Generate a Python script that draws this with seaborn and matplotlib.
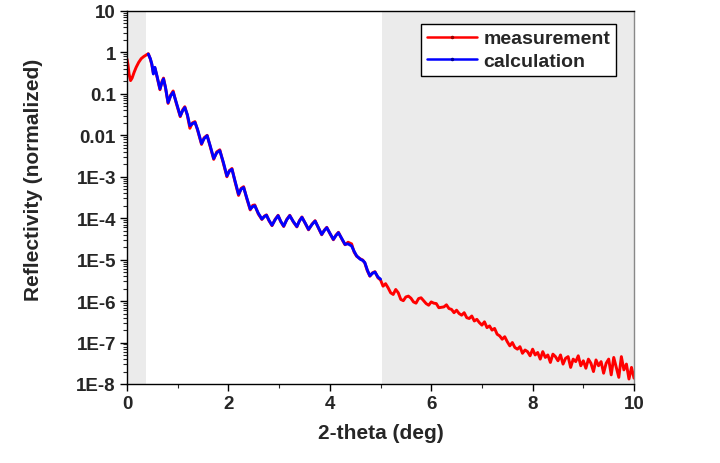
import numpy as np
import pandas as pd
import matplotlib
matplotlib.use("Agg")
import matplotlib.pyplot as plt
import seaborn as sns
from matplotlib.lines import Line2D
from matplotlib.ticker import LogLocator, MultipleLocator, NullFormatter

# Data (reflectivity stored as log10 values)
head_x = [0.0, 0.02, 0.04, 0.07, 0.10, 0.14, 0.18, 0.23, 0.28, 0.33, 0.38]
head_log = [-0.16, -0.30, -0.52, -0.68, -0.62, -0.48, -0.36, -0.24, -0.15, -0.10, -0.06]

calc_x = [0.42, 0.46, 0.49, 0.52, 0.55, 0.59, 0.65, 0.69, 0.72, 0.76,
          0.81, 0.86, 0.91, 0.97, 1.05, 1.10, 1.14, 1.19, 1.24, 1.29,
          1.34, 1.39, 1.47, 1.52, 1.58, 1.64, 1.71, 1.77, 1.83, 1.90,
          1.97, 2.02, 2.07, 2.13, 2.20, 2.25, 2.30, 2.36, 2.43, 2.48,
          2.52, 2.59, 2.66, 2.71, 2.75, 2.80, 2.86, 2.92, 2.98, 3.03,
          3.09, 3.15, 3.21, 3.28, 3.35, 3.40, 3.45, 3.52, 3.58, 3.65,
          3.71, 3.78, 3.84, 3.89, 3.94, 4.01, 4.07, 4.12, 4.17, 4.24,
          4.30, 4.36, 4.43, 4.48, 4.53, 4.60, 4.65, 4.69, 4.74, 4.79,
          4.84, 4.89, 4.95, 5.00]
calc_log = [-0.04, -0.15, -0.28, -0.52, -0.36, -0.56, -0.88, -0.72, -0.64, -0.85,
            -1.21, -1.05, -0.96, -1.20, -1.53, -1.40, -1.33, -1.50, -1.77, -1.72,
            -1.69, -1.85, -2.20, -2.08, -2.01, -2.25, -2.56, -2.42, -2.37, -2.65,
            -2.98, -2.86, -2.82, -3.10, -3.42, -3.30, -3.26, -3.50, -3.78, -3.72,
            -3.70, -3.88, -4.02, -3.96, -3.93, -4.05, -4.17, -4.04, -3.94, -4.07,
            -4.19, -4.04, -3.94, -4.08, -4.20, -4.07, -3.98, -4.13, -4.27, -4.15,
            -4.07, -4.24, -4.39, -4.30, -4.23, -4.38, -4.51, -4.42, -4.35, -4.50,
            -4.63, -4.62, -4.67, -4.80, -4.91, -4.99, -5.02, -5.07, -5.25, -5.39,
            -5.33, -5.30, -5.42, -5.47]
meas_mid_log = [-0.03, -0.16, -0.30, -0.50, -0.38, -0.58, -0.90, -0.70, -0.62, -0.86,
                -1.23, -1.03, -0.93, -1.22, -1.55, -1.38, -1.31, -1.52, -1.83, -1.70,
                -1.67, -1.87, -2.22, -2.06, -2.00, -2.27, -2.58, -2.40, -2.35, -2.67,
                -3.00, -2.85, -2.80, -3.12, -3.45, -3.28, -3.24, -3.52, -3.80, -3.69,
                -3.68, -3.90, -4.03, -3.95, -3.92, -4.06, -4.18, -4.03, -3.93, -4.08,
                -4.20, -4.03, -3.93, -4.09, -4.21, -4.06, -3.97, -4.14, -4.28, -4.14,
                -4.06, -4.25, -4.40, -4.29, -4.22, -4.39, -4.52, -4.41, -4.34, -4.51,
                -4.64, -4.58, -4.62, -4.82, -4.92, -4.98, -5.01, -5.08, -5.27, -5.40,
                -5.32, -5.29, -5.44, -5.49]

tail_x = [5.05, 5.10, 5.15, 5.20, 5.25, 5.30, 5.35, 5.40, 5.45, 5.50,
          5.55, 5.60, 5.65, 5.70, 5.75, 5.80, 5.85, 5.90, 5.95, 6.00,
          6.05, 6.10, 6.15, 6.20, 6.25, 6.30, 6.35, 6.40, 6.45, 6.50,
          6.55, 6.60, 6.65, 6.70, 6.75, 6.80, 6.85, 6.90, 6.95, 7.00,
          7.05, 7.10, 7.15, 7.20, 7.25, 7.30, 7.35, 7.40, 7.45, 7.50,
          7.55, 7.60, 7.65, 7.70, 7.75, 7.80, 7.85, 7.90, 7.95, 8.00,
          8.05, 8.10, 8.15, 8.20, 8.25, 8.30, 8.35, 8.40, 8.45, 8.50,
          8.55, 8.60, 8.65, 8.70, 8.75, 8.80, 8.85, 8.90, 8.95, 9.00,
          9.05, 9.10, 9.15, 9.20, 9.25, 9.30, 9.35, 9.40, 9.45, 9.50,
          9.55, 9.60, 9.65, 9.70, 9.75, 9.80, 9.85, 9.90, 9.95, 10.00]
tail_log = [-5.64, -5.58, -5.68, -5.80, -5.84, -5.72, -5.80, -5.96, -5.99, -5.90,
            -5.88, -5.93, -6.02, -6.05, -5.94, -5.92, -5.99, -6.06, -6.10, -6.02,
            -6.05, -6.06, -6.16, -6.15, -6.14, -6.09, -6.18, -6.20, -6.28, -6.22,
            -6.30, -6.34, -6.28, -6.40, -6.42, -6.36, -6.48, -6.44, -6.52, -6.58,
            -6.50, -6.64, -6.60, -6.70, -6.66, -6.80, -6.84, -6.92, -6.86, -6.98,
            -7.08, -7.00, -7.12, -7.16, -7.10, -7.26, -7.18, -7.22, -7.32, -7.16,
            -7.30, -7.24, -7.40, -7.22, -7.36, -7.30, -7.48, -7.28, -7.34, -7.44,
            -7.30, -7.52, -7.38, -7.34, -7.60, -7.40, -7.46, -7.32, -7.56, -7.44,
            -7.62, -7.40, -7.50, -7.70, -7.42, -7.56, -7.46, -7.74, -7.50, -7.40,
            -7.78, -7.36, -7.60, -7.84, -7.34, -7.66, -7.52, -7.88, -7.60, -7.86]

ytick_vals = [10, 1, 0.1, 0.01, 1e-3, 1e-4, 1e-5, 1e-6, 1e-7, 1e-8]
ytick_labels = ["10", "1", "0.1", "0.01", "1E-3", "1E-4", "1E-5", "1E-6", "1E-7", "1E-8"]
xtick_vals = [0, 2, 4, 6, 8, 10]

meas = pd.DataFrame({
    "two_theta": head_x + calc_x + tail_x,
    "refl": 10 ** np.array(head_log + meas_mid_log + tail_log),
})
calc = pd.DataFrame({"two_theta": calc_x, "refl": 10 ** np.array(calc_log)})

sns.set_style("ticks")
plt.rcParams["font.family"] = ["Liberation Sans", "DejaVu Sans"]
plt.rcParams["font.weight"] = "bold"
plt.rcParams["axes.linewidth"] = 1.0

fig = plt.figure(figsize=(7.2, 4.64), dpi=100)
ax = fig.add_axes([0.1764, 0.1703, 0.7042, 0.8039])

# shaded regions
ax.axvspan(0, 0.37, color="#ebebeb", lw=0, zorder=0)
ax.axvspan(5.03, 10, color="#ebebeb", lw=0, zorder=0)

sns.lineplot(data=meas, x="two_theta", y="refl", color="#ff0000", lw=2.1,
             sort=False, estimator=None, ax=ax)
sns.lineplot(data=calc, x="two_theta", y="refl", color="#0000ff", lw=2.1,
             sort=False, estimator=None, ax=ax)

ax.set_yscale("log")
ax.set_xlim(0, 10)
ax.set_ylim(1e-8, 10)
ax.set_yticks(ytick_vals, ytick_labels)
ax.yaxis.set_minor_locator(LogLocator(base=10, subs=np.arange(2, 10), numticks=20))
ax.yaxis.set_minor_formatter(NullFormatter())
ax.set_xticks(xtick_vals)
ax.xaxis.set_minor_locator(MultipleLocator(1))
ax.tick_params(which="major", length=5, width=1, direction="out", labelsize=13.5,
               pad=3, color="black")
ax.tick_params(which="minor", length=3, width=0.8, direction="out")
for t in ax.get_xticklabels() + ax.get_yticklabels():
    t.set_fontweight("bold")

for s in ax.spines.values():
    s.set_color("black")
    s.set_linewidth(1.0)
ax.spines["right"].set_color("#888888")

ax.set_xlabel("2-theta (deg)", fontsize=15, fontweight="bold")
ax.set_ylabel("Reflectivity (normalized)", fontsize=15, fontweight="bold")
ax.xaxis.set_label_coords(0.5, -0.105)
ax.yaxis.set_label_coords(-0.165, 0.55)

handles = [
    Line2D([], [], color="#ff0000", lw=1.8, marker=".", ms=3,
           mfc="#990000", mec="#990000"),
    Line2D([], [], color="#0000ff", lw=1.8, marker=".", ms=3,
           mfc="#000099", mec="#000099"),
]
leg = ax.legend(handles, ["measurement", "calculation"], loc="upper right",
                bbox_to_anchor=(0.9645, 0.965), frameon=True, fancybox=False,
                edgecolor="black", framealpha=1, handlelength=2.6,
                handletextpad=0.3, borderpad=0.3, labelspacing=0.25,
                borderaxespad=0, prop={"weight": "bold", "size": 14})
leg.get_frame().set_linewidth(1.0)

fig.savefig("out.png", dpi=100)
